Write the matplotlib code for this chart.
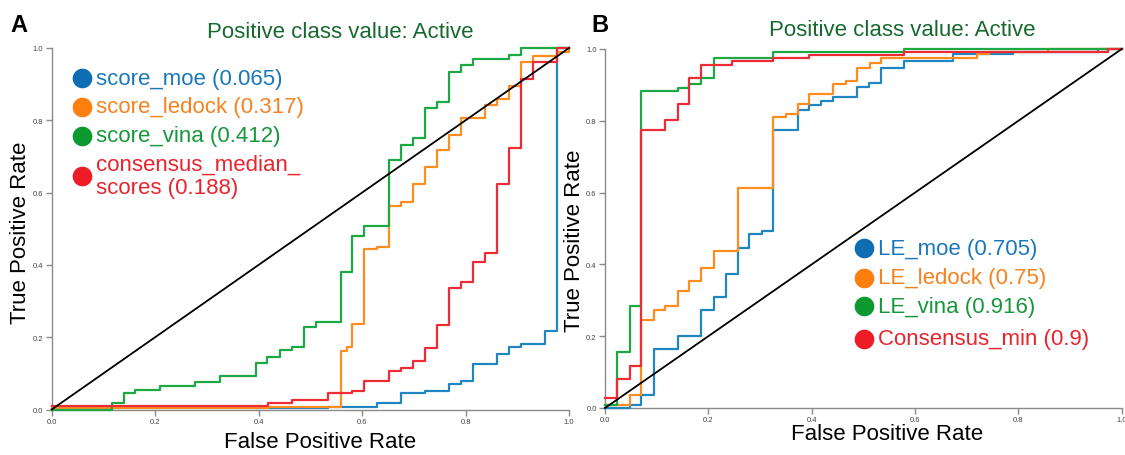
import matplotlib
matplotlib.use("Agg")
import matplotlib.pyplot as plt

plt.rcParams['font.family'] = ['Liberation Sans', 'DejaVu Sans']

# ---------------- data: panel A (fpr breakpoints, tpr levels, step-post) ----------------
moe_A_fpr = [0, 0.535, 0.628, 0.675, 0.722, 0.768, 0.792, 0.815, 0.861, 0.884, 0.907, 0.954, 0.977, 1.0]
moe_A_tpr = [0.004, 0.006, 0.017, 0.045, 0.052, 0.071, 0.08, 0.126, 0.153, 0.172, 0.181, 0.218, 1.0, 1.0]

ledock_A_fpr = [0, 0.419, 0.559, 0.57, 0.581, 0.604, 0.628, 0.652, 0.675, 0.698, 0.721, 0.744,
                0.768, 0.791, 0.838, 0.861, 0.884, 0.907, 0.931, 0.977, 1.0]
ledock_A_tpr = [0.004, 0.008, 0.162, 0.172, 0.236, 0.443, 0.45, 0.563, 0.574, 0.625, 0.671, 0.717,
                0.76, 0.806, 0.843, 0.86, 0.894, 0.961, 0.977, 0.99, 1.0]

vina_A_fpr = [0, 0.116, 0.139, 0.161, 0.209, 0.277, 0.326, 0.395, 0.417, 0.441, 0.464, 0.487, 0.511,
              0.559, 0.581, 0.604, 0.652, 0.675, 0.698, 0.721, 0.744, 0.768, 0.791, 0.815, 0.884, 0.907, 1.0]
vina_A_tpr = [0.0, 0.019, 0.047, 0.055, 0.064, 0.075, 0.094, 0.13, 0.146, 0.164, 0.174, 0.227, 0.243,
              0.381, 0.479, 0.507, 0.689, 0.733, 0.751, 0.834, 0.852, 0.933, 0.952, 0.970, 0.98, 1.0, 1.0]

cons_A_fpr = [0, 0.419, 0.465, 0.535, 0.581, 0.604, 0.652, 0.675, 0.698, 0.722, 0.745, 0.768, 0.792,
              0.815, 0.838, 0.861, 0.884, 0.907, 0.931, 0.977, 1.0]
cons_A_tpr = [0.011, 0.018, 0.026, 0.045, 0.052, 0.08, 0.107, 0.116, 0.135, 0.171, 0.233, 0.335, 0.353,
              0.408, 0.434, 0.624, 0.724, 0.913, 0.961, 1.0, 1.0]

labels_A = ["score_moe (0.065)", "score_ledock (0.317)", "score_vina (0.412)",
            "consensus_median_\nscores (0.188)"]

# ---------------- data: panel B ----------------
moe_B_fpr = [0, 0.048, 0.07, 0.094, 0.141, 0.186, 0.21, 0.234, 0.257, 0.279, 0.303, 0.326, 0.373, 0.395,
             0.418, 0.442, 0.488, 0.511, 0.534, 0.579, 0.673, 0.79, 0.955, 1.0]
moe_B_tpr = [0.0, 0.009, 0.037, 0.165, 0.2, 0.273, 0.309, 0.374, 0.445, 0.486, 0.493, 0.774, 0.829, 0.845,
             0.855, 0.865, 0.893, 0.904, 0.948, 0.966, 0.985, 0.992, 1.0, 1.0]

ledock_B_fpr = [0, 0.048, 0.07, 0.094, 0.117, 0.141, 0.163, 0.186, 0.21, 0.257, 0.326, 0.35, 0.373, 0.395,
                0.442, 0.466, 0.488, 0.513, 0.534, 0.719, 0.743, 0.858, 1.0]
ledock_B_tpr = [0.009, 0.037, 0.246, 0.273, 0.283, 0.327, 0.355, 0.39, 0.436, 0.613, 0.811, 0.82, 0.846,
                0.874, 0.902, 0.911, 0.946, 0.96, 0.975, 0.985, 0.992, 1.0, 1.0]

vina_B_fpr = [0, 0.024, 0.048, 0.07, 0.141, 0.163, 0.186, 0.21, 0.326, 0.579, 1.0]
vina_B_tpr = [0.009, 0.155, 0.284, 0.883, 0.892, 0.902, 0.92, 0.974, 0.992, 1.0, 1.0]

cons_B_fpr = [0, 0.024, 0.048, 0.07, 0.117, 0.141, 0.163, 0.186, 0.245, 0.326, 0.395, 0.579, 0.974, 1.0]
cons_B_tpr = [0.028, 0.081, 0.118, 0.775, 0.801, 0.846, 0.918, 0.955, 0.966, 0.974, 0.983, 0.992, 1.0, 1.0]

labels_B = ["LE_moe (0.705)", "LE_ledock (0.75)", "LE_vina (0.916)", "Consensus_min (0.9)"]

ticks = [0.0, 0.2, 0.4, 0.6, 0.8, 1.0]
tick_labels = ["0.0", "0.2", "0.4", "0.6", "0.8", "1.0"]

# ---------------- styling ----------------
line_colors = ['#1f86c1', '#ff8c21', '#1ca843', '#ee2c36']
text_colors = ['#1a78b8', '#f5821f', '#16973a', '#e8252d']
dot_colors = ['#0f6db3', '#ff7f0e', '#0c9a30', '#ee1c25']
title_color = '#17692f'

W, H = 1125, 456
fig = plt.figure(figsize=(W / 100, H / 100), dpi=100)


def fx(x):
    return x / W


def fy(y):
    return 1 - y / H


def make_axes(left, right, top, bottom):
    ax = fig.add_axes([fx(left), fy(bottom), (right - left) / W, (bottom - top) / H])
    ax.set_xlim(0, 1)
    ax.set_ylim(0, 1)
    for s in ['top', 'right']:
        ax.spines[s].set_visible(False)
    for s in ['left', 'bottom']:
        ax.spines[s].set_color('#8a8a8a')
        ax.spines[s].set_linewidth(1.0)
    ax.set_xticks(ticks)
    ax.set_xticklabels(tick_labels)
    ax.set_yticks(ticks)
    ax.set_yticklabels(tick_labels)
    ax.tick_params(length=4, width=1, color='#8a8a8a', labelsize=5.5, labelcolor='#444444', pad=2)
    ax.plot([0, 1], [0, 1], color='black', lw=1.3, zorder=5, clip_on=False)
    return ax


axA = make_axes(51.7, 569, 49, 410.5)
axB = make_axes(605, 1121.7, 50, 409)

for ax, series in [
    (axA, [(moe_A_fpr, moe_A_tpr), (ledock_A_fpr, ledock_A_tpr), (vina_A_fpr, vina_A_tpr), (cons_A_fpr, cons_A_tpr)]),
    (axB, [(moe_B_fpr, moe_B_tpr), (ledock_B_fpr, ledock_B_tpr), (vina_B_fpr, vina_B_tpr), (cons_B_fpr, cons_B_tpr)]),
]:
    for (xs, ys), c in zip(series, line_colors):
        ax.step(xs, ys, where='post', color=c, lw=1.6, clip_on=False, zorder=3)

# titles
fig.text(fx(340), fy(32), "Positive class value: Active", color=title_color, fontsize=16,
         ha='center', va='center')
fig.text(fx(902), fy(31), "Positive class value: Active", color=title_color, fontsize=16,
         ha='center', va='center')

# panel letters
fig.text(fx(18.5), fy(25), "A", fontsize=17, fontweight='bold', ha='center', va='center')
fig.text(fx(600), fy(25), "B", fontsize=17, fontweight='bold', ha='center', va='center')

# axis labels
fig.text(fx(320), fy(443), "False Positive Rate", fontsize=16, ha='center', va='center')
fig.text(fx(887), fy(435), "False Positive Rate", fontsize=16, ha='center', va='center')
fig.text(fx(21), fy(233), "True Positive Rate", fontsize=16, ha='center', va='center', rotation=90)
fig.text(fx(574), fy(241), "True Positive Rate", fontsize=16, ha='center', va='center', rotation=90)

# legends
legA_y = [79, 108, 136.5, 176.5]
for lab, yy, tc, dc in zip(labels_A, legA_y, text_colors, dot_colors):
    fig.text(fx(96), fy(yy), lab, color=tc, fontsize=16, ha='left', va='center', linespacing=1.15)
    axA.scatter([fx(81.7)], [fy(yy)], s=200, color=dc, transform=fig.transFigure, clip_on=False,
                linewidths=0, zorder=10)

legB_y = [249, 279, 307, 340]
for lab, yy, tc, dc in zip(labels_B, legB_y, text_colors, dot_colors):
    fig.text(fx(878.5), fy(yy), lab, color=tc, fontsize=16, ha='left', va='center')
    axB.scatter([fx(864)], [fy(yy)], s=200, color=dc, transform=fig.transFigure, clip_on=False,
                linewidths=0, zorder=10)

fig.savefig("out.png", dpi=100, facecolor='white')
